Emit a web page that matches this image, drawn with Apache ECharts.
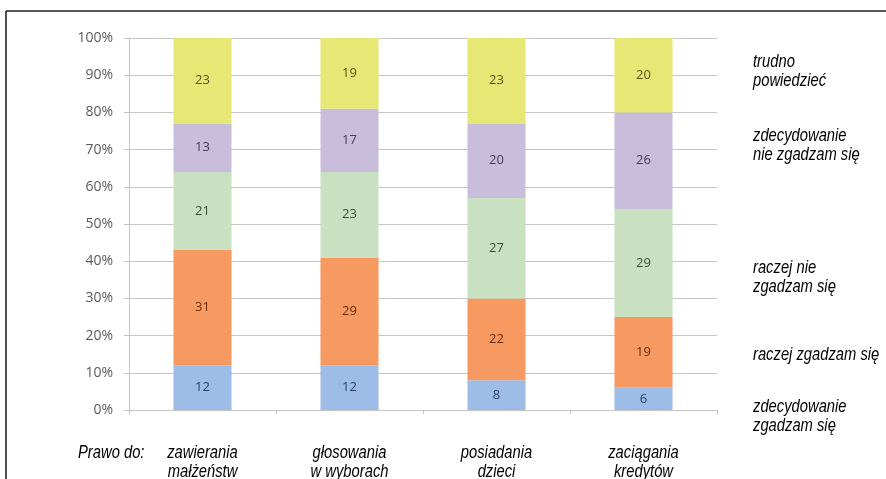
<!DOCTYPE html>
<html>
<head>
<meta charset="utf-8">
<script src="https://cdn.jsdelivr.net/npm/echarts@6/dist/echarts.min.js"></script>
<style>
  html, body { margin: 0; padding: 0; background: #fff; }
  #chart { width: 886px; height: 479px; }
</style>
</head>
<body>
<div id="chart"></div>
<script>
// categories (x axis), two lines each
const categories = ['zawierania\nmałżeństw', 'głosowania\nw wyborach', 'posiadania\ndzieci', 'zaciągania\nkredytów']

// answers, bottom to top of each bar
const seriesNames = [
  'zdecydowanie zgadzam się',
  'raczej zgadzam się',
  'raczej nie zgadzam się',
  'zdecydowanie nie zgadzam się',
  'trudno powiedzieć'
]
const strongAgree = [12, 12, 8, 6]
const ratherAgree = [31, 29, 22, 19]
const ratherDisagree = [21, 23, 27, 29]
const strongDisagree = [13, 17, 20, 26]
const hardToSay = [23, 19, 23, 20]

// labels written on the right side, one per answer, top to bottom
const sideLabels = [
  'trudno\npowiedzieć',
  'zdecydowanie\nnie zgadzam się',
  'raczej nie\nzgadzam się',
  'raczej zgadzam się',
  'zdecydowanie\nzgadzam się'
]

const values = [strongAgree, ratherAgree, ratherDisagree, strongDisagree, hardToSay]
const fills = ['#9dbde6', '#f79a62', '#c9e1c1', '#c9bddc', '#e6e774']
const labelColors = ['#2b3f68', '#6a2c0c', '#3d4c35', '#43395a', '#55561a']

// condensed italic look: regular italic squeezed horizontally
const narrow = { fontFamily: '"Liberation Sans", Arial, sans-serif', fontStyle: 'italic', fontSize: 18, lineHeight: 19, fill: '#000' }
const squeeze = 0.82

const chart = echarts.init(document.getElementById('chart'), null, { renderer: 'canvas' })

const series = values.map((data, i) => ({
  name: seriesNames[i],
  type: 'bar',
  stack: 'all',
  barWidth: '39.5%',
  data,
  itemStyle: { color: fills[i] },
  label: {
    show: true,
    position: 'inside',
    color: labelColors[i],
    fontFamily: '"Open Sans", sans-serif',
    fontSize: 13
  },
  emphasis: { disabled: true }
}))

chart.setOption({
  animation: false,
  grid: { left: 129, right: 169, top: 38, bottom: 69 },
  xAxis: {
    type: 'category',
    data: categories,
    axisLine: { lineStyle: { color: '#c4c4c4' } },
    axisTick: { show: true, length: 4, lineStyle: { color: '#c4c4c4' } },
    axisLabel: { show: false }
  },
  yAxis: {
    type: 'value',
    min: 0,
    max: 100,
    interval: 10,
    axisLine: { show: true, lineStyle: { color: '#c4c4c4' } },
    axisTick: { show: true, length: 5, lineStyle: { color: '#c4c4c4' } },
    splitLine: { lineStyle: { color: '#c6c6c6', width: 1.2 } },
    axisLabel: {
      formatter: '{value}%',
      fontFamily: '"Open Sans", sans-serif',
      fontSize: 14,
      color: '#5a5a5a',
      margin: 16
    }
  },
  series
})

// category labels placed at the axis positions, squeezed like a condensed font
const catLabels = categories.map((c, i) => ({
  type: 'text',
  x: chart.convertToPixel({ xAxisIndex: 0 }, i),
  y: 443,
  scaleX: squeeze,
  style: { text: c, align: 'center', verticalAlign: 'top', ...narrow }
}))

// side labels y position (pixels) - placed like the original
const sideTop = [52, 126, 258, 345, 397]

const graphic = [
  { type: 'line', shape: { x1: 6, y1: 11, x2: 886, y2: 11 }, style: { stroke: '#222', lineWidth: 1.6 } },
  { type: 'line', shape: { x1: 6, y1: 11, x2: 6, y2: 479 }, style: { stroke: '#222', lineWidth: 1.6 } },
  { type: 'text', x: 78, y: 443, scaleX: squeeze, style: { text: 'Prawo do:', align: 'left', verticalAlign: 'top', ...narrow } }
].concat(catLabels).concat(sideLabels.map((t, i) => ({
  type: 'text', x: 753, y: sideTop[i], scaleX: squeeze,
  style: { text: t, align: 'left', verticalAlign: 'top', ...narrow }
})))

chart.setOption({ graphic })
</script>
</body>
</html>
